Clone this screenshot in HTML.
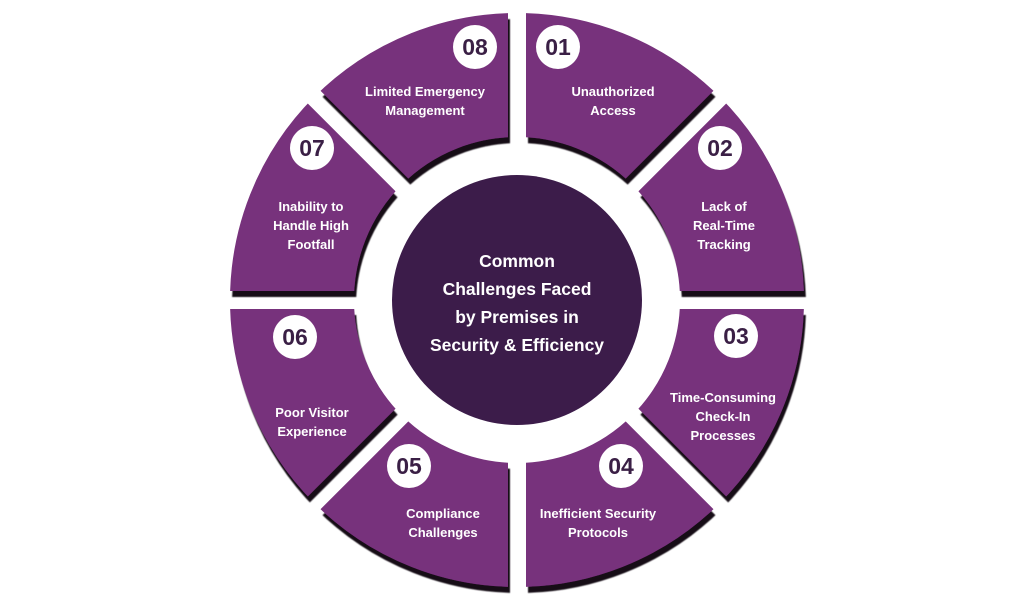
<!DOCTYPE html>
<html><head><meta charset="utf-8"><style>
html,body{margin:0;padding:0;background:#fff;}
svg{display:block;}
.lb{font-family:"Liberation Sans",sans-serif;font-weight:bold;font-size:13px;fill:#fff;text-anchor:middle;}
.nm{font-family:"Liberation Sans",sans-serif;font-weight:bold;font-size:23px;fill:#3a1f45;text-anchor:middle;}
.ct{font-family:"Liberation Sans",sans-serif;font-weight:bold;font-size:17.5px;fill:#fff;text-anchor:middle;}
</style></head><body>
<svg width="1024" height="597" viewBox="0 0 1024 597" xmlns="http://www.w3.org/2000/svg">
<defs>
<filter id="sh" filterUnits="userSpaceOnUse" x="0" y="0" width="1024" height="597">
<feDropShadow dx="2" dy="6" stdDeviation="0.6" flood-color="#120a16" flood-opacity="1"/>
</filter>
<clipPath id="c1"><polygon points="526,278.3 526,-121.7 809,-4.7"/></clipPath>
<clipPath id="c2"><polygon points="538.7,291 821.7,8 938.7,291"/></clipPath>
<clipPath id="c3"><polygon points="538.7,309 938.7,309 821.7,592"/></clipPath>
<clipPath id="c4"><polygon points="526,321.7 809,604.7 526,721.7"/></clipPath>
<clipPath id="c5"><polygon points="508,321.7 508,721.7 225,604.7"/></clipPath>
<clipPath id="c6"><polygon points="495.3,309 212.3,592 95.3,309"/></clipPath>
<clipPath id="c7"><polygon points="495.3,291 95.3,291 212.3,8"/></clipPath>
<clipPath id="c8"><polygon points="508,278.3 225,-4.7 508,-121.7"/></clipPath>
</defs>
<g filter="url(#sh)">
<g clip-path="url(#c1)"><circle cx="517" cy="300" r="225" fill="none" stroke="#77307b" stroke-width="124"/></g>
<g clip-path="url(#c2)"><circle cx="517" cy="300" r="225" fill="none" stroke="#77307b" stroke-width="124"/></g>
<g clip-path="url(#c3)"><circle cx="517" cy="300" r="225" fill="none" stroke="#77307b" stroke-width="124"/></g>
<g clip-path="url(#c4)"><circle cx="517" cy="300" r="225" fill="none" stroke="#77307b" stroke-width="124"/></g>
<g clip-path="url(#c5)"><circle cx="517" cy="300" r="225" fill="none" stroke="#77307b" stroke-width="124"/></g>
<g clip-path="url(#c6)"><circle cx="517" cy="300" r="225" fill="none" stroke="#77307b" stroke-width="124"/></g>
<g clip-path="url(#c7)"><circle cx="517" cy="300" r="225" fill="none" stroke="#77307b" stroke-width="124"/></g>
<g clip-path="url(#c8)"><circle cx="517" cy="300" r="225" fill="none" stroke="#77307b" stroke-width="124"/></g>
</g>
<circle cx="517" cy="300" r="125" fill="#3c1c4a"/>
<text class="ct" x="517" y="267">Common</text>
<text class="ct" x="517" y="295">Challenges Faced</text>
<text class="ct" x="517" y="323">by Premises in</text>
<text class="ct" x="517" y="351">Security &amp; Efficiency</text>

<g fill="#fff">
<circle cx="475" cy="47" r="22"/><circle cx="558" cy="47" r="22"/>
<circle cx="720" cy="148" r="22"/><circle cx="312" cy="148" r="22"/>
<circle cx="736" cy="336" r="22"/><circle cx="295" cy="337" r="22"/>
<circle cx="409" cy="466" r="22"/><circle cx="621" cy="466" r="22"/>
</g>
<text class="nm" x="475" y="55">08</text>
<text class="nm" x="558" y="55">01</text>
<text class="nm" x="720" y="156">02</text>
<text class="nm" x="312" y="156">07</text>
<text class="nm" x="736" y="344">03</text>
<text class="nm" x="295" y="345">06</text>
<text class="nm" x="409" y="474">05</text>
<text class="nm" x="621" y="474">04</text>

<text class="lb" x="425" y="96">Limited Emergency</text>
<text class="lb" x="425" y="115">Management</text>
<text class="lb" x="613" y="96">Unauthorized</text>
<text class="lb" x="613" y="115">Access</text>
<text class="lb" x="724" y="211">Lack of</text>
<text class="lb" x="724" y="230">Real-Time</text>
<text class="lb" x="724" y="249">Tracking</text>
<text class="lb" x="311" y="211">Inability to</text>
<text class="lb" x="311" y="230">Handle High</text>
<text class="lb" x="311" y="249">Footfall</text>
<text class="lb" x="723" y="402">Time-Consuming</text>
<text class="lb" x="723" y="421">Check-In</text>
<text class="lb" x="723" y="440">Processes</text>
<text class="lb" x="312" y="417">Poor Visitor</text>
<text class="lb" x="312" y="436">Experience</text>
<text class="lb" x="443" y="518">Compliance</text>
<text class="lb" x="443" y="537">Challenges</text>
<text class="lb" x="598" y="518">Inefficient Security</text>
<text class="lb" x="598" y="537">Protocols</text>
</svg>
</body></html>
